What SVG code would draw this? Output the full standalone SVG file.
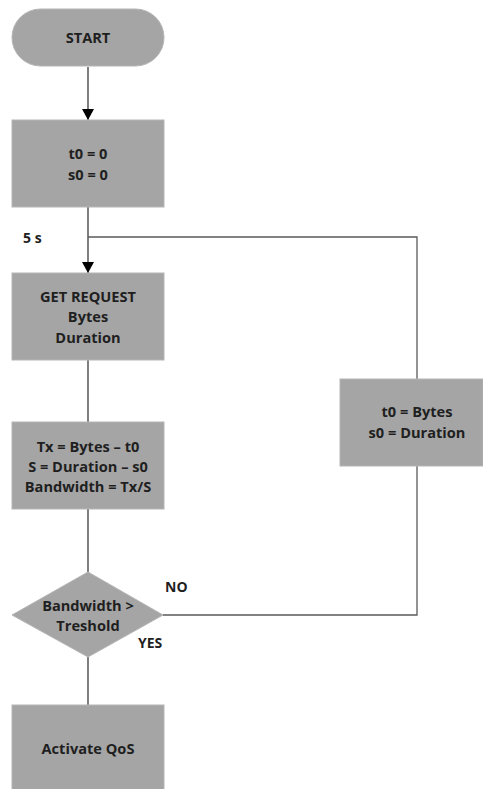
<svg xmlns="http://www.w3.org/2000/svg" width="483" height="789" viewBox="0 0 483 789">
  <style>
    .shape { fill: #a5a5a5; stroke: #b5b5b5; stroke-width: 1; }
    .lbl { font-family: "Open Sans", "Liberation Sans", sans-serif; font-weight: bold; font-size: 14.6px; fill: #1f1f1f; text-anchor: middle; }
    .side { font-family: "Open Sans", "Liberation Sans", sans-serif; font-weight: bold; font-size: 14px; fill: #1f1f1f; }
    .wire { fill: none; stroke: #3a3a3a; stroke-width: 1.3; }
    .wire2 { fill: none; stroke: #5a5a5a; stroke-width: 1.3; }
  </style>
  <defs>
    <marker id="arrow" markerWidth="12" markerHeight="12" refX="11" refY="6" orient="auto" markerUnits="userSpaceOnUse">
      <path d="M0,0 L11,6 L0,12 Z" fill="#000"/>
    </marker>
  </defs>
  <rect width="483" height="789" fill="#ffffff"/>

  <g id="connectors">
    <path class="wire" d="M88,67 V120" marker-end="url(#arrow)"/>
    <path class="wire" d="M88,207 V273" marker-end="url(#arrow)"/>
    <path class="wire" d="M88,360 V422"/>
    <path class="wire" d="M88,509 V572"/>
    <path class="wire" d="M88,657 V705"/>
    <path class="wire2" d="M163,615 H417 V466"/>
    <path class="wire2" d="M417,379 V237 H88"/>
    <text class="side" x="23" y="243">5 s</text>
    <text class="side" x="165" y="592">NO</text>
    <text class="side" x="138" y="648">YES</text>
  </g>

  <g id="start">
    <rect class="shape" x="12" y="9" width="152" height="57" rx="28.5"/>
    <text class="lbl" x="88" y="43">START</text>
  </g>

  <g id="init">
    <rect class="shape" x="12" y="120" width="152" height="87"/>
    <text class="lbl" x="88" y="159">t0 = 0</text>
    <text class="lbl" x="88" y="180">s0 = 0</text>
  </g>

  <g id="request">
    <rect class="shape" x="12" y="273" width="152" height="87"/>
    <text class="lbl" x="88" y="302">GET REQUEST</text>
    <text class="lbl" x="88" y="322">Bytes</text>
    <text class="lbl" x="88" y="343">Duration</text>
  </g>

  <g id="compute">
    <rect class="shape" x="12" y="422" width="152" height="87"/>
    <text class="lbl" x="88" y="452">Tx = Bytes – t0</text>
    <text class="lbl" x="88" y="472">S = Duration – s0</text>
    <text class="lbl" x="88" y="492">Bandwidth = Tx/S</text>
  </g>

  <g id="decision">
    <polygon class="shape" points="88,572 163,615 88,657 12,615"/>
    <text class="lbl" x="88" y="611">Bandwidth &gt;</text>
    <text class="lbl" x="88" y="631">Treshold</text>
  </g>

  <g id="qos">
    <rect class="shape" x="12" y="705" width="152" height="90"/>
    <text class="lbl" x="88" y="754">Activate QoS</text>
  </g>

  <g id="update">
    <rect class="shape" x="340" y="379" width="143" height="87"/>
    <text class="lbl" x="417" y="417">t0 = Bytes</text>
    <text class="lbl" x="417" y="438">s0 = Duration</text>
  </g>
</svg>
